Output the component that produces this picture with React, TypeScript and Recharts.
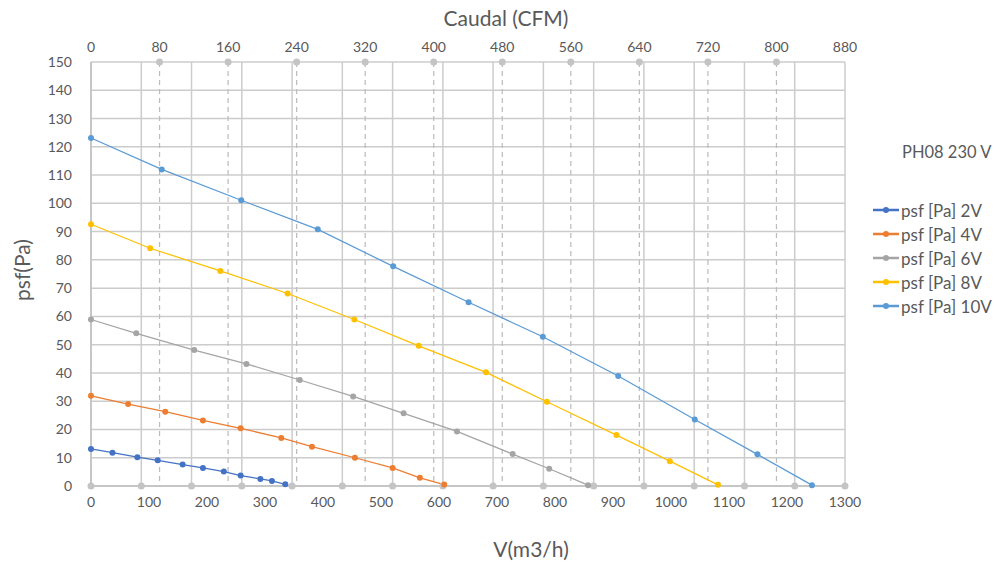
import {
  ComposedChart,
  Line,
  Scatter,
  XAxis,
  YAxis,
  CartesianGrid,
  ReferenceLine,
} from 'recharts'

// Fan curves: flow V (m3/h) against static pressure psf (Pa) per control voltage
const flow2V = [0, 37, 80, 115, 158, 193, 229, 258, 292, 312, 335]
const psf2V = [13.1, 11.8, 10.2, 9.1, 7.6, 6.4, 5.1, 3.7, 2.5, 1.8, 0.6]

const flow4V = [0, 64, 128, 193, 258, 328, 381, 455, 520, 567, 609]
const psf4V = [31.9, 29, 26.3, 23.2, 20.4, 17, 13.9, 10, 6.4, 2.9, 0.5]

const flow6V = [0, 78, 178, 268, 360, 452, 539, 631, 727, 790, 857]
const psf6V = [58.9, 54, 48.1, 43.2, 37.5, 31.7, 25.7, 19.3, 11.3, 6.1, 0.3]

const flow8V = [0, 102, 223, 339, 454, 565, 681, 786, 906, 998, 1081]
const psf8V = [92.6, 84.1, 76.1, 68.1, 58.9, 49.6, 40.2, 29.8, 18, 8.8, 0.4]

const flow10V = [0, 122, 259, 391, 521, 651, 779, 909, 1041, 1149, 1243]
const psf10V = [123.1, 112, 101.1, 90.8, 77.7, 65, 52.8, 38.9, 23.5, 11.2, 0.3]

const m3hTicks = [0, 100, 200, 300, 400, 500, 600, 700, 800, 900, 1000, 1100, 1200, 1300]
const cfmTicks = [0, 80, 160, 240, 320, 400, 480, 560, 640, 720, 800, 880]
const psfTicks = [0, 10, 20, 30, 40, 50, 60, 70, 80, 90, 100, 110, 120, 130, 140, 150]

// solid verticals with markers on the bottom edge (m3/h)
const solidGrid = [0, 86.7, 173.3, 260, 346.7, 433.3, 520, 606.7, 693.3, 780, 866.7, 953.3, 1040, 1126.7, 1213.3, 1300]
// dashed verticals with markers on the top edge (CFM)
const dashedGrid = [80, 160, 240, 320, 400, 480, 560, 640, 720, 800]

const seriesNames = ['psf [Pa] 2V', 'psf [Pa] 4V', 'psf [Pa] 6V', 'psf [Pa] 8V', 'psf [Pa] 10V']
const seriesColors = ['#4472C4', '#ED7D31', '#A5A5A5', '#FFC000', '#5B9BD5']
const seriesFlows = [flow2V, flow4V, flow6V, flow8V, flow10V]
const seriesPsf = [psf2V, psf4V, psf6V, psf8V, psf10V]

const series = seriesNames.map((name, i) => ({
  name,
  color: seriesColors[i],
  data: seriesFlows[i].map((x, j) => ({ x, y: seriesPsf[i][j] })),
}))

const bottomMarks = solidGrid.map((x) => ({ x, y: 0 }))
const topMarks = dashedGrid.map((x) => ({ x, y: 150 }))

const FONT = 'Lato, "Noto Sans", sans-serif'
const TEXT = '#595959'
const GRID = '#cccccc'

const tickStyle = { fill: TEXT, fontSize: 14, fontFamily: FONT }

const greyDot = (props: any) => (
  <circle cx={props.cx} cy={props.cy} r={3.5} fill="#c4c4c4" />
)

const titleStyle = {
  position: 'absolute' as const,
  transform: 'translate(-50%, -50%)',
  fontFamily: FONT,
  fontSize: 21,
  lineHeight: '24px',
  color: TEXT,
  whiteSpace: 'nowrap' as const,
}

function Legend() {
  return (
    <div
      style={{
        position: 'absolute',
        left: 865,
        top: 132,
        fontFamily: FONT,
        color: TEXT,
        fontSize: 17,
      }}
    >
      <div style={{ marginLeft: 29, height: 24, lineHeight: '24px', whiteSpace: 'nowrap', fontSize: 16.5 }}>
        PH08 230 V
      </div>
      <div style={{ height: 34 }} />
      {series.map((s) => (
        <div
          key={s.name}
          style={{ display: 'flex', alignItems: 'center', height: 24, whiteSpace: 'nowrap' }}
        >
          <svg width={28} height={10}>
            <line x1={0} y1={5} x2={26} y2={5} stroke={s.color} strokeWidth={2.5} />
            <circle cx={13} cy={5} r={3} fill={s.color} />
          </svg>
          <span>{s.name}</span>
        </div>
      ))}
    </div>
  )
}

export default function App() {
  return (
    <div style={{ position: 'relative', width: 985, height: 554 }}>
      <ComposedChart
        width={985}
        height={554}
        margin={{ top: 24, right: 148, bottom: 56, left: 33 }}
      >
        <CartesianGrid vertical={false} stroke={GRID} strokeWidth={1.5} />
        <XAxis
          xAxisId="m3h"
          dataKey="x"
          type="number"
          domain={[0, 1300]}
          ticks={m3hTicks}
          interval={0}
          tick={tickStyle}
          tickLine={false}
          tickSize={0}
          tickMargin={11}
          axisLine={{ stroke: '#bfbfbf', strokeWidth: 1.5 }}
          height={20}
        />
        <XAxis
          xAxisId="cfm"
          orientation="top"
          dataKey="x"
          type="number"
          domain={[0, 880]}
          ticks={cfmTicks}
          interval={0}
          tick={tickStyle}
          tickLine={false}
          tickSize={0}
          tickMargin={10}
          axisLine={false}
          height={30}
        />
        <YAxis
          type="number"
          domain={[0, 150]}
          ticks={psfTicks}
          interval={0}
          tick={tickStyle}
          tickLine={false}
          tickSize={0}
          tickMargin={19}
          axisLine={{ stroke: '#bfbfbf', strokeWidth: 1.5 }}
          width={50}
        />
        {solidGrid.map((v) => (
          <ReferenceLine
            key={'s' + v}
            xAxisId="m3h"
            x={v}
            stroke={GRID}
            strokeWidth={1.5}
          />
        ))}
        {dashedGrid.map((v) => (
          <ReferenceLine
            key={'d' + v}
            xAxisId="cfm"
            x={v}
            stroke="#bdbdbd"
            strokeWidth={1.25}
            strokeDasharray="5 4"
          />
        ))}
        <Scatter
          xAxisId="m3h"
          data={bottomMarks}
          dataKey="y"
          shape={greyDot}
          isAnimationActive={false}
        />
        <Scatter
          xAxisId="cfm"
          data={topMarks}
          dataKey="y"
          shape={greyDot}
          isAnimationActive={false}
        />
        {series.map((s) => (
          <Line
            key={s.name}
            xAxisId="m3h"
            data={s.data}
            dataKey="y"
            name={s.name}
            type="linear"
            stroke={s.color}
            strokeWidth={1.25}
            dot={{ r: 3, fill: s.color, stroke: 'none' }}
            activeDot={false}
            isAnimationActive={false}
          />
        ))}
      </ComposedChart>

      <div style={{ ...titleStyle, left: 498, top: 10 }}>Caudal (CFM)</div>
      <div style={{ ...titleStyle, left: 523, top: 541 }}>V(m3/h)</div>
      <div style={{ ...titleStyle, left: 14, top: 262, transform: 'translate(-50%, -50%) rotate(-90deg)' }}>
        psf(Pa)
      </div>
      <Legend />
    </div>
  )
}
